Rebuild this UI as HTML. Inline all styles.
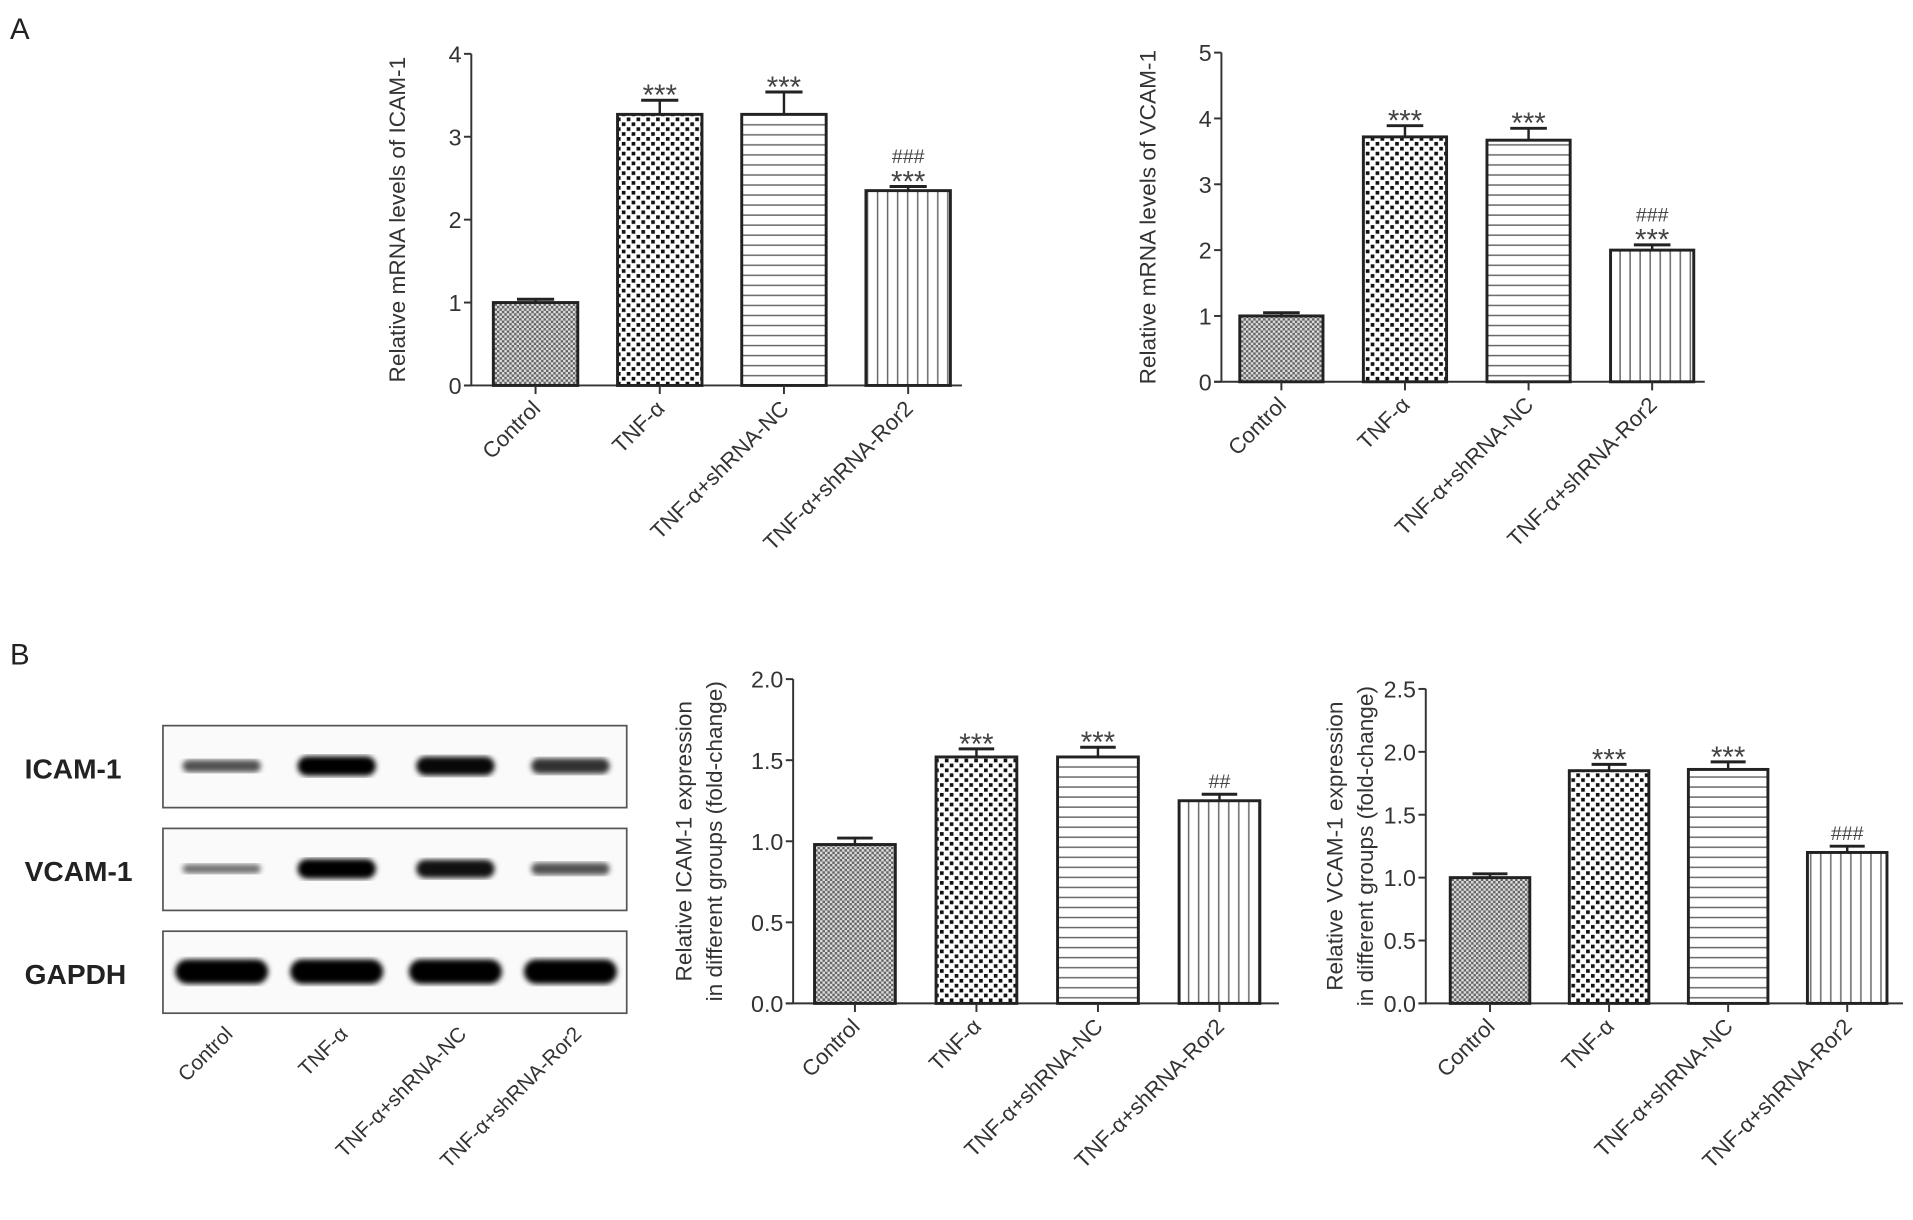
<!DOCTYPE html>
<html><head><meta charset="utf-8"><style>
html,body{margin:0;padding:0;background:#fff;}
svg{display:block;font-family:"Liberation Sans",Arial,sans-serif;}
</style></head><body>
<svg id="fig" width="1913" height="1220" viewBox="0 0 1563 997" xmlns="http://www.w3.org/2000/svg">
<defs>
<pattern id="pCtrl" width="4" height="4" patternUnits="userSpaceOnUse"><rect width="4" height="4" fill="#dcdcdc"/><rect width="2" height="2" fill="#666"/><rect x="2" y="2" width="2" height="2" fill="#666"/></pattern>
<pattern id="pTnf" width="8" height="8" patternUnits="userSpaceOnUse"><rect width="8" height="8" fill="#fff"/><rect width="3" height="3" fill="#111"/><rect x="4" y="4" width="3" height="3" fill="#111"/></pattern>
<pattern id="pNc" width="8" height="8.2" patternUnits="userSpaceOnUse"><rect width="8" height="8.2" fill="#fff"/><rect y="3" width="8" height="1.2" fill="#666"/></pattern>
<pattern id="pRor" width="8.2" height="8" patternUnits="userSpaceOnUse"><rect width="8.2" height="8" fill="#fff"/><rect x="3" width="1.2" height="8" fill="#666"/></pattern>
<filter id="blur"><feGaussianBlur stdDeviation="2.2"/></filter>
</defs>
<text x="8" y="32" font-size="24" fill="#222">A</text>
<text x="8" y="543" font-size="24" fill="#222">B</text>
<g id="blot"></g>
</svg>
<script>
const categories = ["Control","TNF-α","TNF-α+shRNA-NC","TNF-α+shRNA-Ror2"];
const icamMrnaValues = [1.0, 3.27, 3.27, 2.35];
const icamMrnaErrors = [0.04, 0.17, 0.27, 0.05];
const icamMrnaSig = [[],["***"],["***"],["***","###"]];
const vcamMrnaValues = [1.0, 3.72, 3.67, 2.0];
const vcamMrnaErrors = [0.05, 0.17, 0.18, 0.08];
const vcamMrnaSig = [[],["***"],["***"],["***","###"]];
const icamProtValues = [0.98, 1.52, 1.52, 1.25];
const icamProtErrors = [0.04, 0.05, 0.06, 0.04];
const icamProtSig = [[],["***"],["***"],["##"]];
const vcamProtValues = [1.0, 1.85, 1.86, 1.2];
const vcamProtErrors = [0.03, 0.05, 0.06, 0.05];
const vcamProtSig = [[],["***"],["***"],["###"]];
const ticksA1 = [0,1,2,3,4];
const ticksA2 = [0,1,2,3,4,5];
const ticksB = ["0.0","0.5","1.0","1.5","2.0"];
const ticksB2 = ["0.0","0.5","1.0","1.5","2.0","2.5"];
const blotRows = ["ICAM-1","VCAM-1","GAPDH"];
const blotIntensity = [[0.5,1.0,0.95,0.7],[0.3,1.0,0.9,0.5],[1.0,1.0,1.0,1.0]];

const NS="http://www.w3.org/2000/svg";
const fig=document.getElementById('fig');
function el(tag,attrs,parent){const e=document.createElementNS(NS,tag);for(const k in attrs)e.setAttribute(k,attrs[k]);(parent||fig).appendChild(e);return e;}
const fills=["url(#pCtrl)","url(#pTnf)","url(#pNc)","url(#pRor)"];

function chart(cfg,values,errors,sig,ticks){
  const g=el('g',{});
  
  
  const tmax=+ticks[ticks.length-1];
  const y=v=>cfg.y0-(v/tmax)*(cfg.y0-cfg.yTop);
  const x=i=>cfg.firstX+i*cfg.step;
  const ya=el('line',{x1:cfg.ax,y1:cfg.yTop,x2:cfg.ax,y2:cfg.y0,stroke:'#333','stroke-width':1.6},g);
  
  
  const xa=el('line',{x1:cfg.ax-6,y1:cfg.y0,x2:cfg.xEnd,y2:cfg.y0,stroke:'#333','stroke-width':1.6},g);
  
  
  ticks.forEach(t=>{
    const v=+t;
    el('line',{x1:cfg.ax-6,y1:y(v),x2:cfg.ax,y2:y(v),stroke:'#333','stroke-width':1.6},g);
    const tx=el('text',{x:cfg.ax-8,y:y(v)+7,'font-size':19,fill:'#333','text-anchor':'end'},g);
    tx.textContent=t;
    
    
  });
  const tl=el('text',{transform:`translate(${cfg.titleX},${(cfg.y0+cfg.yTop)/2}) rotate(-90)`,'font-size':18.5,fill:'#333','text-anchor':'middle'},g);
  
  
  cfg.title.forEach((line,li)=>{const ts=el('tspan',{x:0,dy:li?25:0},tl);ts.textContent=line;});
  values.forEach((v,i)=>{
    const cx=x(i);
    const top=y(v+errors[i]);
    const ev=el('line',{x1:cx,y1:y(v),x2:cx,y2:top,stroke:'#222','stroke-width':2},g);
    
    
    const ec=el('line',{x1:cx-cfg.bw*0.22,y1:top,x2:cx+cfg.bw*0.22,y2:top,stroke:'#222','stroke-width':2.4},g);
    
    
    const r=el('rect',{x:cx-cfg.bw/2,y:y(v),width:cfg.bw,height:cfg.y0-y(v),fill:fills[i],stroke:'#222','stroke-width':2.4},g);
    
    
    el('line',{x1:cx,y1:cfg.y0,x2:cx,y2:cfg.y0+7,stroke:'#333','stroke-width':1.6},g);
    sig[i].forEach((s,k)=>{
      const isStar=s[0]==='*';
      const st=el('text',{x:cx,y:isStar?top+4:top-19,'font-size':isStar?24:16,fill:'#444','text-anchor':'middle'},g);
      if(!isStar && sig[i].length===1) st.setAttribute('y',top-5);
      st.textContent=s;
      
      
    });
    const lb=el('text',{transform:`translate(${cx+5},${cfg.y0+20}) rotate(-45)`,'font-size':18,fill:'#333','text-anchor':'end'},g);
    lb.textContent=categories[i];
    
    
  });
}
chart({name:'chart-icam-mrna',ax:385,y0:315,yTop:44,xEnd:786,firstX:437.5,step:101.5,bw:69,titleX:331,title:["Relative mRNA levels of ICAM-1"]},icamMrnaValues,icamMrnaErrors,icamMrnaSig,ticksA1);
chart({name:'chart-vcam-mrna',ax:998,y0:312,yTop:43,xEnd:1393,firstX:1047,step:101,bw:68,titleX:944,title:["Relative mRNA levels of VCAM-1"]},vcamMrnaValues,vcamMrnaErrors,vcamMrnaSig,ticksA2);
chart({name:'chart-icam-protein',ax:648,y0:820,yTop:555,xEnd:1045,firstX:698.5,step:99.3,bw:66,titleX:565,title:["Relative ICAM-1 expression","in different groups (fold-change)"]},icamProtValues,icamProtErrors,icamProtSig,ticksB);
chart({name:'chart-vcam-protein',ax:1165,y0:820,yTop:563,xEnd:1555,firstX:1217.5,step:97.3,bw:65,titleX:1097,title:["Relative VCAM-1 expression","in different groups (fold-change)"]},vcamProtValues,vcamProtErrors,vcamProtSig,ticksB2);

const blot=document.getElementById('blot');
const lanes=[181,275,372,466];
blotRows.forEach((name,r)=>{
  const top=593+r*84;
  const box=el('rect',{x:133,y:top,width:379,height:67,fill:'#fafafa',stroke:'#555','stroke-width':1.4},blot);
  
  
  const lt=el('text',{x:20,y:top+43,'font-size':23,'font-weight':'bold',fill:'#222'},blot);
  lt.textContent=name;
  
  
  blotIntensity[r].forEach((inten,i)=>{
    const h=r===2?20:4+inten*12;
    const w=r===2?76:64;
    const b=el('rect',{x:lanes[i]-w/2,y:top+33-h/2,width:w,height:h,rx:h/2,fill:'#000','fill-opacity':Math.min(1,0.35+inten*0.65),filter:'url(#blur)'},blot);
    
    
  });
});
categories.forEach((c,i)=>{
  const lb=el('text',{transform:`translate(${lanes[i]+10},${846}) rotate(-45)`,'font-size':17,fill:'#333','text-anchor':'end'},blot);
  lb.textContent=c;
  
  
});
</script>
</body></html>
